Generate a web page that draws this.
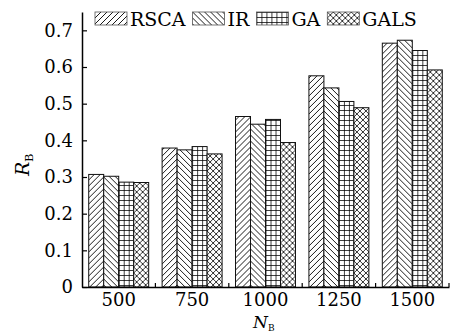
<!DOCTYPE html>
<html>
<head>
<meta charset="utf-8">
<script src="https://cdn.jsdelivr.net/npm/d3@7"></script>
<style>
  body { margin: 0; background: #fff; }
  text { font-family: "DejaVu Serif", serif; fill: #000; }
</style>
</head>
<body>
<div id="chart"></div>
<script>
"use strict";
// categories (N_B) and series names
var categories = ["500", "750", "1000", "1250", "1500"];
var seriesNames = ["RSCA", "IR", "GA", "GALS"];

// R_B values
var rsca = [0.307, 0.379, 0.465, 0.576, 0.665];
var ir = [0.302, 0.374, 0.444, 0.543, 0.673];
var ga = [0.286, 0.383, 0.457, 0.506, 0.645];
var gals = [0.285, 0.363, 0.394, 0.489, 0.592];

var yTicks = [0, 0.1, 0.2, 0.3, 0.4, 0.5, 0.6, 0.7];

var seriesValues = [rsca, ir, ga, gals];

var w = 464,
  h = 333;
var margin = { left: 82, right: 15, top: 12, bottom: 46 };

var svg = d3
  .select("#chart")
  .append("svg")
  .attr("width", w)
  .attr("height", h);

// hatch patterns, one per series
var defs = svg.append("defs");
var patternIds = ["pRSCA", "pIR", "pGA", "pGALS"];

function addPattern(id, size, d, sw) {
  var p = defs
    .append("pattern")
    .attr("id", id)
    .attr("patternUnits", "userSpaceOnUse")
    .attr("width", size)
    .attr("height", size);
  p.append("rect")
    .attr("width", size)
    .attr("height", size)
    .attr("fill", "#fff");
  p.append("path")
    .attr("d", d)
    .attr("stroke", "#000")
    .attr("stroke-width", sw)
    .attr("fill", "none");
}
addPattern("pRSCA", 6, "M0,6L6,0M-1,1L1,-1M5,7L7,5", 0.9);
addPattern("pIR", 6, "M0,0L6,6M-1,5L1,7M5,-1L7,1", 0.9);
addPattern("pGA", 5, "M0,0.5L5,0.5M0.5,0L0.5,5", 0.75);
addPattern("pGALS", 6, "M0,0L6,6M-1,5L1,7M5,-1L7,1M0,6L6,0M-1,1L1,-1M5,7L7,5", 0.8);

var x = d3
  .scaleBand()
  .domain(categories)
  .range([margin.left, w - margin.right])
  .paddingInner(0.183)
  .paddingOuter(0.0915);

var xSub = d3
  .scaleBand()
  .domain(seriesNames)
  .range([0, x.bandwidth()]);

var y = d3
  .scaleLinear()
  .domain([0, 0.75])
  .range([h - margin.bottom, margin.top]);

// bars
var groups = svg
  .append("g")
  .selectAll("g")
  .data(categories)
  .join("g")
  .attr("transform", function(d) {
    return "translate(" + x(d) + ",0)";
  });

groups
  .selectAll("rect")
  .data(function(d, i) {
    return seriesNames.map(function(s, j) {
      return { series: s, value: seriesValues[j][i], k: j };
    });
  })
  .join("rect")
  .attr("x", function(d) {
    return xSub(d.series);
  })
  .attr("y", function(d) {
    return y(d.value);
  })
  .attr("width", xSub.bandwidth())
  .attr("height", function(d) {
    return y(0) - y(d.value);
  })
  .attr("fill", function(d) {
    return "url(#" + patternIds[d.k] + ")";
  })
  .attr("stroke", "#111")
  .attr("stroke-width", 1);

// y axis, ticks pointing inward
var yAxis = svg
  .append("g")
  .attr("transform", "translate(" + margin.left + ",0)")
  .call(
    d3
      .axisLeft(y)
      .tickValues(yTicks)
      .tickFormat(function(d) {
        return d === 0 ? "0" : d3.format(".1f")(d);
      })
      .tickSizeInner(-5)
      .tickSizeOuter(0)
      .tickPadding(9)
  );
yAxis.select(".domain").attr("stroke", "#000").attr("stroke-width", 1.5);
yAxis.selectAll(".tick line").attr("stroke", "#000").attr("stroke-width", 1.2);
yAxis
  .selectAll("text")
  .style("font-family", "DejaVu Serif")
  .style("font-size", "18px");

// x axis, labels at band centres and small ticks between groups
var xAxis = svg
  .append("g")
  .attr("transform", "translate(0," + y(0) + ")")
  .call(
    d3
      .axisBottom(x)
      .tickSize(0)
      .tickPadding(6)
  );
xAxis.select(".domain").attr("stroke", "#000").attr("stroke-width", 1.5);
xAxis
  .selectAll("text")
  .style("font-family", "DejaVu Serif")
  .style("font-size", "18px");

xAxis
  .selectAll(".sep")
  .data(categories)
  .join("line")
  .attr("class", "sep")
  .attr("x1", function(d) {
    return x(d) - x.step() * x.paddingOuter() + x.step();
  })
  .attr("x2", function(d) {
    return x(d) - x.step() * x.paddingOuter() + x.step();
  })
  .attr("y1", 0)
  .attr("y2", -4)
  .attr("stroke", "#000")
  .attr("stroke-width", 1.2);

// axis titles
var yLab = svg
  .append("text")
  .attr("transform", "translate(29,176) rotate(-90)")
  .style("font-size", "19px");
yLab
  .append("tspan")
  .style("font-style", "italic")
  .text("R");
yLab
  .append("tspan")
  .attr("dy", 4)
  .style("font-size", "11px")
  .text("B");

var xLab = svg
  .append("text")
  .attr("x", 253)
  .attr("y", 328)
  .style("font-size", "17px");
xLab
  .append("tspan")
  .style("font-style", "italic")
  .text("N");
xLab
  .append("tspan")
  .attr("dy", 3)
  .style("font-size", "9px")
  .text("B");

// legend across the top
var legend = svg.append("g").attr("transform", "translate(95,12)");
var lx = 0;
seriesNames.forEach(function(s, i) {
  var item = legend.append("g").attr("transform", "translate(" + lx + ",0)");
  item
    .append("rect")
    .attr("width", 32)
    .attr("height", 13)
    .attr("fill", "url(#" + patternIds[i] + ")")
    .attr("stroke", "#555")
    .attr("stroke-width", 0.8);
  var t = item
    .append("text")
    .attr("x", 35)
    .attr("y", 13.5)
    .style("font-size", "19px")
    .text(s);
  lx += 35 + t.node().getComputedTextLength() + 7;
});
</script>
</body>
</html>
